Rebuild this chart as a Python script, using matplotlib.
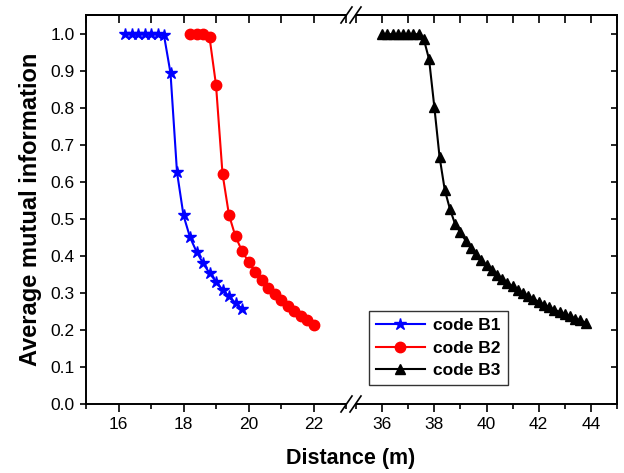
import matplotlib
matplotlib.use('Agg')
import matplotlib.pyplot as plt
from matplotlib.ticker import MultipleLocator
from matplotlib.lines import Line2D

plt.rcParams['font.family'] = ['Liberation Sans', 'DejaVu Sans']

# datos
x_b1 = [16.2, 16.4, 16.6, 16.8, 17.0, 17.2, 17.4, 17.6, 17.8, 18.0,
        18.2, 18.4, 18.6, 18.8, 19.0, 19.2, 19.4, 19.6, 19.8]
y_b1 = [1.0, 1.0, 1.0, 1.0, 1.0, 1.0, 0.997, 0.895, 0.627, 0.510,
        0.451, 0.412, 0.381, 0.354, 0.331, 0.309, 0.291, 0.273, 0.258]

x_b2 = [18.2, 18.4, 18.6, 18.8, 19.0, 19.2, 19.4, 19.6, 19.8, 20.0,
        20.2, 20.4, 20.6, 20.8, 21.0, 21.2, 21.4, 21.6, 21.8, 22.0]
y_b2 = [1.0, 1.0, 1.0, 0.992, 0.863, 0.623, 0.511, 0.453, 0.414, 0.384,
        0.358, 0.334, 0.315, 0.297, 0.280, 0.266, 0.252, 0.239, 0.226, 0.213]

x_b3 = [36.0, 36.2, 36.4, 36.6, 36.8, 37.0, 37.2, 37.4, 37.6, 37.8,
        38.0, 38.2, 38.4, 38.6, 38.8, 39.0, 39.2, 39.4, 39.6, 39.8,
        40.0, 40.2, 40.4, 40.6, 40.8, 41.0, 41.2, 41.4, 41.6, 41.8,
        42.0, 42.2, 42.4, 42.6, 42.8, 43.0, 43.2, 43.4, 43.6, 43.8]
y_b3 = [1.0, 1.0, 1.0, 1.0, 1.0, 1.0, 1.0, 1.0, 0.986, 0.932,
        0.804, 0.669, 0.579, 0.527, 0.486, 0.464, 0.442, 0.422, 0.405, 0.389,
        0.375, 0.362, 0.350, 0.339, 0.328, 0.318, 0.309, 0.300, 0.292, 0.284,
        0.276, 0.269, 0.262, 0.255, 0.249, 0.243, 0.237, 0.231, 0.226, 0.220]

W, H = 624, 473
fig = plt.figure(figsize=(W / 100, H / 100), dpi=100)

y0, y1 = 404, 15
ax1 = fig.add_axes([86 / W, 1 - y0 / H, 260 / W, (y0 - y1) / H])
ax2 = fig.add_axes([356 / W, 1 - y0 / H, 261 / W, (y0 - y1) / H])

ax1.plot(x_b1, y_b1, color='blue', marker='*', markersize=9, lw=1.5, label='code B1')
ax1.plot(x_b2, y_b2, color='red', marker='o', markersize=7.5, lw=1.5, label='code B2')
ax2.plot(x_b3, y_b3, color='black', marker='^', markersize=7.5, lw=1.5, label='code B3')

ax1.set_xlim(15, 23)
ax2.set_xlim(35, 45)
for ax in (ax1, ax2):
    ax.set_ylim(0, 1.052)
    ax.xaxis.set_major_locator(MultipleLocator(2))
    ax.xaxis.set_minor_locator(MultipleLocator(1))
    ax.yaxis.set_major_locator(MultipleLocator(0.1))
    ax.tick_params(axis='x', which='major', direction='out', length=6, width=1.2,
                   labelsize=12.5, pad=3.5)
    ax.tick_params(axis='x', which='minor', direction='out', length=3.5, width=1.2)
    for s in ax.spines.values():
        s.set_linewidth(1.4)
    sec = ax.secondary_xaxis('top')
    sec.xaxis.set_major_locator(MultipleLocator(2))
    sec.xaxis.set_minor_locator(MultipleLocator(1))
    sec.tick_params(which='both', direction='in', length=6, width=1.2, labeltop=False)
    sec.spines['top'].set_linewidth(1.4)

ax1.spines['right'].set_visible(False)
ax1.tick_params(axis='y', direction='out', length=4, width=1.2, labelsize=12.5, pad=4)
ax1.yaxis.set_major_formatter(plt.FormatStrFormatter('%.1f'))

ax2.spines['left'].set_visible(False)
ax2.yaxis.tick_right()
ax2.tick_params(axis='y', direction='in', length=4, width=1.2, labelright=False)

ax1.set_ylabel('Average mutual information', fontsize=17, fontweight='bold', labelpad=6)
fig.text(351 / W, 1 - 458 / H, 'Distance (m)', fontsize=15.5, fontweight='bold',
         ha='center', va='center')

# marcas de corte //
for ys in (y1, y0):
    for cx in (346.5, 355.5):
        fig.add_artist(Line2D([(cx - 5.5) / W, (cx + 5.5) / W],
                              [1 - (ys + 8) / H, 1 - (ys - 8) / H],
                              color='black', lw=1.2))

handles = ax1.get_lines() + ax2.get_lines()
leg = fig.legend(handles, [h.get_label() for h in handles], loc='lower left',
                 bbox_to_anchor=(369 / W, 1 - 385 / H), borderaxespad=0,
                 frameon=True, fancybox=False, edgecolor='black',
                 handlelength=2.8, borderpad=0.4, labelspacing=0.42, handletextpad=0.5,
                 prop={'weight': 'bold', 'size': 12.5})
leg.get_frame().set_linewidth(1.0)

fig.savefig('out.png', dpi=100)
